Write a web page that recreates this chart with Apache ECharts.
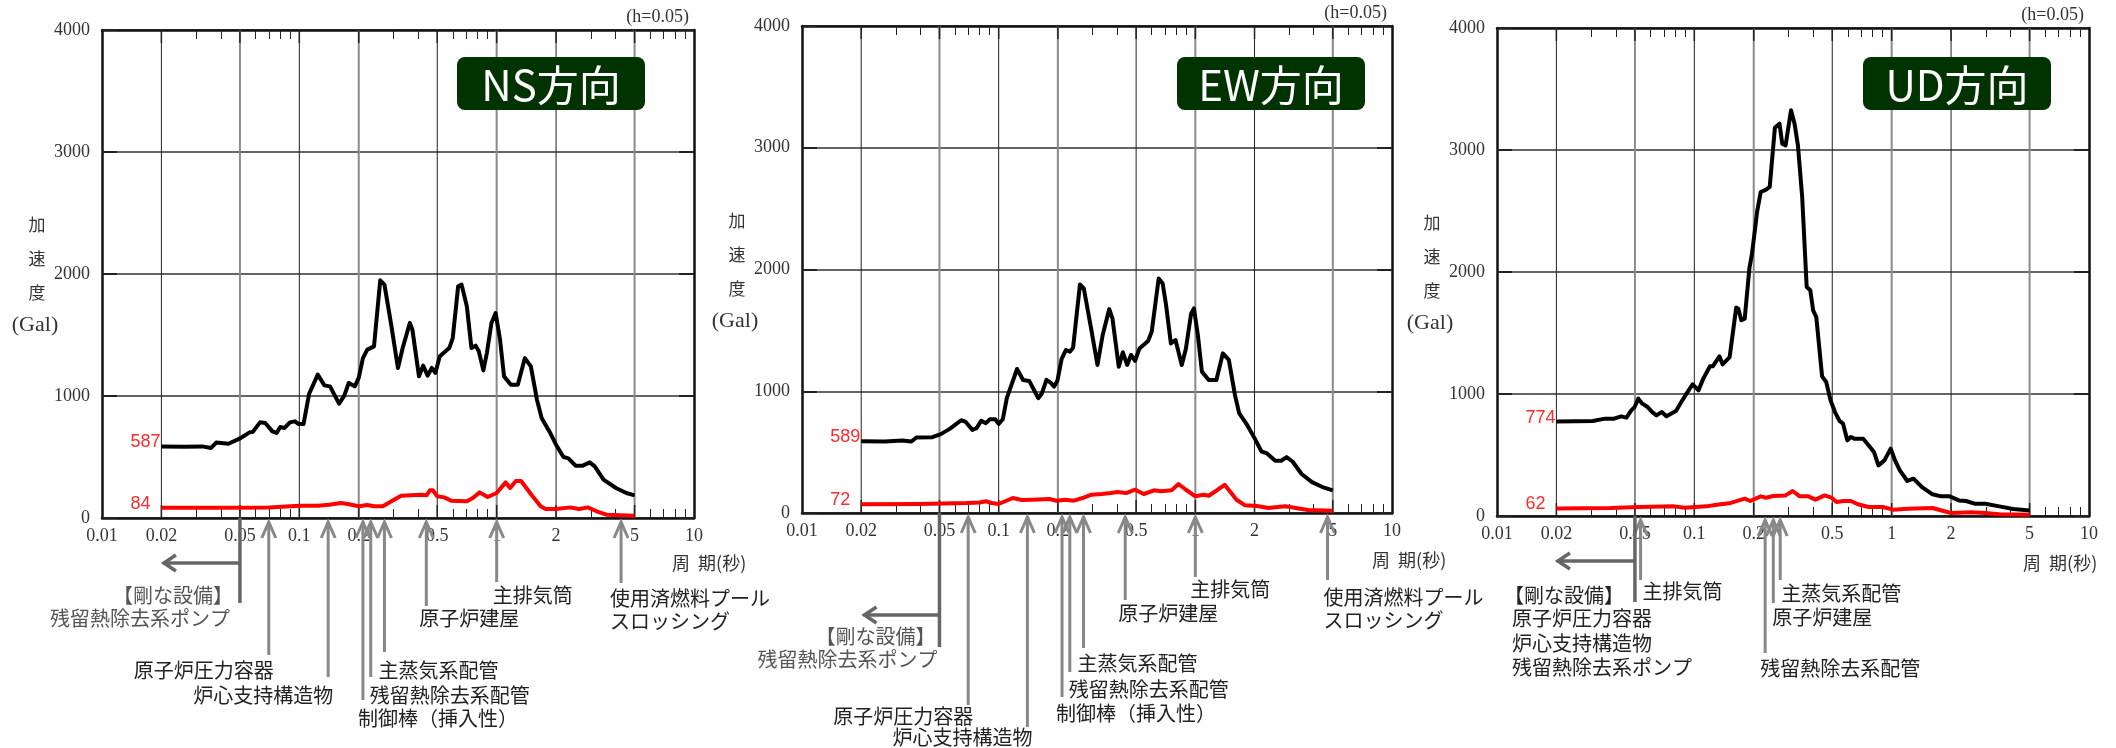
<!DOCTYPE html>
<html>
<head>
<meta http-equiv="Content-Type" content="text/html; charset=utf-8" />
<title>床応答スペクトル</title>
<style>
    html, body { margin: 0; padding: 0; background: #fff; }
    #main { width: 2116px; height: 748px; }
</style>
</head>
<body>
<div id="main"></div>
<script src="https://cdn.jsdelivr.net/npm/echarts@6/dist/echarts.min.js"></script>
<script type="text/javascript">
// ---- values (period s, acceleration Gal) ----
var nsBlackT = [0.02, 0.0262, 0.0322, 0.0357, 0.0379, 0.0437, 0.0495, 0.056, 0.058, 0.0632, 0.0672, 0.073, 0.0767, 0.080, 0.0842, 0.0896, 0.095, 0.0992, 0.105, 0.112, 0.124, 0.134, 0.143, 0.159, 0.169, 0.178, 0.191, 0.2, 0.21, 0.221, 0.226, 0.239, 0.257, 0.270, 0.293, 0.316, 0.334, 0.363, 0.374, 0.404, 0.424, 0.447, 0.469, 0.489, 0.515, 0.575, 0.599, 0.638, 0.664, 0.706, 0.745, 0.782, 0.812, 0.856, 0.892, 0.941, 0.988, 1.04, 1.09, 1.18, 1.28, 1.39, 1.49, 1.60, 1.69, 1.85, 2.0, 2.18, 2.31, 2.51, 2.73, 2.96, 3.14, 3.48, 4.02, 4.54, 5.0];
var nsBlackA = [587, 583, 587, 574, 618, 609, 648, 702, 704, 784, 779, 710, 697, 746, 738, 784, 792, 770, 770, 1016, 1175, 1087, 1079, 937, 1003, 1107, 1079, 1148, 1311, 1380, 1366, 1407, 1948, 1913, 1571, 1230, 1393, 1598, 1544, 1161, 1249, 1167, 1230, 1189, 1325, 1393, 1475, 1899, 1913, 1735, 1393, 1413, 1366, 1210, 1352, 1598, 1680, 1462, 1161, 1093, 1093, 1311, 1243, 970, 820, 710, 601, 500, 489, 429, 429, 456, 423, 314, 246, 205, 186];
var nsRedT = [0.02, 0.0395, 0.0701, 0.1, 0.124, 0.142, 0.162, 0.176, 0.2, 0.221, 0.239, 0.265, 0.293, 0.328, 0.367, 0.415, 0.441, 0.459, 0.475, 0.5, 0.542, 0.588, 0.707, 0.757, 0.82, 0.9, 1.0, 1.11, 1.17, 1.25, 1.33, 1.5, 1.67, 1.77, 2.0, 2.36, 2.61, 2.9, 3.21, 3.6, 5.0];
var nsRedA = [84, 83, 87, 101, 101, 109, 123, 115, 96, 107, 96, 96, 137, 183, 186, 191, 186, 227, 227, 178, 169, 142, 137, 164, 210, 172, 205, 292, 246, 303, 303, 191, 96, 74, 74, 87, 74, 87, 55, 27, 19];

var ewBlackT = [0.02, 0.0264, 0.0324, 0.036, 0.0382, 0.046, 0.0508, 0.0564, 0.0645, 0.0677, 0.0735, 0.0772, 0.0815, 0.086, 0.0903, 0.096, 0.1, 0.105, 0.110, 0.124, 0.133, 0.143, 0.159, 0.166, 0.175, 0.185, 0.191, 0.199, 0.209, 0.220, 0.230, 0.239, 0.259, 0.271, 0.294, 0.318, 0.338, 0.365, 0.379, 0.408, 0.428, 0.450, 0.471, 0.494, 0.520, 0.575, 0.600, 0.651, 0.682, 0.710, 0.751, 0.793, 0.853, 0.896, 0.952, 0.984, 1.03, 1.08, 1.17, 1.28, 1.38, 1.48, 1.59, 1.67, 1.84, 2.0, 2.17, 2.30, 2.55, 2.73, 2.91, 3.12, 3.47, 3.92, 4.43, 5.0];
var ewBlackA = [589, 587, 596, 587, 620, 623, 648, 691, 762, 751, 683, 697, 757, 738, 770, 770, 732, 770, 943, 1183, 1093, 1085, 943, 984, 1093, 1066, 1038, 1087, 1265, 1339, 1325, 1358, 1877, 1844, 1530, 1216, 1462, 1675, 1598, 1202, 1320, 1216, 1298, 1249, 1352, 1413, 1489, 1926, 1885, 1708, 1393, 1421, 1216, 1352, 1639, 1680, 1462, 1161, 1093, 1093, 1311, 1257, 970, 820, 719, 615, 505, 492, 429, 429, 459, 423, 320, 254, 213, 186];
var ewRedT = [0.02, 0.0395, 0.0691, 0.0798, 0.0867, 0.0921, 0.1, 0.118, 0.131, 0.148, 0.181, 0.197, 0.218, 0.241, 0.267, 0.296, 0.334, 0.372, 0.402, 0.445, 0.494, 0.547, 0.617, 0.670, 0.757, 0.821, 0.896, 1.0, 1.10, 1.17, 1.30, 1.41, 1.62, 1.79, 2.06, 2.35, 2.87, 3.24, 3.74, 5.0];
var ewRedA = [72, 74, 82, 87, 96, 82, 74, 123, 107, 109, 115, 101, 109, 101, 123, 150, 156, 164, 172, 164, 191, 156, 186, 178, 186, 238, 191, 137, 150, 142, 191, 232, 109, 63, 57, 41, 55, 41, 25, 19];

var udBlackT = [0.02, 0.0249, 0.0306, 0.0353, 0.0392, 0.0426, 0.0453, 0.0479, 0.0498, 0.052, 0.0545, 0.058, 0.0612, 0.0643, 0.0684, 0.0722, 0.0807, 0.0859, 0.0913, 0.098, 0.105, 0.111, 0.120, 0.124, 0.134, 0.139, 0.151, 0.163, 0.167, 0.173, 0.180, 0.190, 0.196, 0.208, 0.217, 0.231, 0.241, 0.256, 0.270, 0.279, 0.290, 0.309, 0.322, 0.335, 0.352, 0.371, 0.387, 0.400, 0.415, 0.444, 0.466, 0.490, 0.516, 0.544, 0.567, 0.596, 0.621, 0.647, 0.688, 0.717, 0.764, 0.813, 0.857, 0.919, 0.989, 1.04, 1.10, 1.20, 1.29, 1.42, 1.61, 1.78, 1.97, 2.19, 2.38, 2.63, 2.98, 3.51, 4.13, 5.0];
var udBlackA = [774, 776, 779, 798, 798, 817, 806, 866, 893, 962, 921, 893, 852, 825, 852, 817, 861, 934, 1003, 1079, 1030, 1126, 1227, 1227, 1309, 1243, 1303, 1708, 1699, 1604, 1617, 2027, 2150, 2492, 2656, 2675, 2697, 3183, 3216, 3052, 3038, 3325, 3216, 3038, 2615, 1877, 1850, 1686, 1631, 1145, 1098, 948, 852, 779, 757, 620, 648, 634, 634, 634, 579, 525, 415, 456, 552, 456, 374, 287, 306, 238, 178, 161, 161, 128, 123, 101, 101, 79, 57, 46];
var udRedT = [0.02, 0.0376, 0.0523, 0.079, 0.0895, 0.115, 0.130, 0.153, 0.180, 0.192, 0.217, 0.231, 0.251, 0.290, 0.315, 0.342, 0.379, 0.411, 0.457, 0.496, 0.526, 0.572, 0.621, 0.674, 0.764, 0.900, 1.02, 1.20, 1.61, 2.0, 2.53, 2.98, 3.51, 5.0];
var udRedA = [62, 66, 74, 79, 68, 79, 93, 107, 142, 123, 161, 150, 164, 169, 205, 161, 161, 134, 169, 150, 115, 123, 123, 96, 74, 74, 52, 60, 66, 25, 30, 25, 14, 11];

// ---- arrows under the period axis ----
var nsArrowT = [0.07, 0.14, 0.21, 0.23, 0.27, 0.44, 1.0, 4.27];
var ewArrowT = [0.07, 0.14, 0.21, 0.23, 0.27, 0.44, 1.0, 4.7];
var udArrowT = [0.0534, 0.2285, 0.2513, 0.2724];
var nsArrowText = ['原子炉圧力容器', '炉心支持構造物', '制御棒（挿入性）', '残留熱除去系配管', '主蒸気系配管', '原子炉建屋', '主排気筒', '使用済燃料プール\nスロッシング'];
var ewArrowText = nsArrowText;
var udArrowText = ['主排気筒', '残留熱除去系配管', '原子炉建屋', '主蒸気系配管'];
var rigidT = 0.05;
var nsRigidText = ['【剛な設備】', '残留熱除去系ポンプ'];
var ewRigidText = nsRigidText;
var udRigidText = ['【剛な設備】', '原子炉圧力容器', '炉心支持構造物', '残留熱除去系ポンプ'];

var periodLabels = [0.01, 0.02, 0.05, 0.1, 0.2, 0.5, 1, 2, 5, 10];
var minorTicks = [0.03, 0.04, 0.06, 0.07, 0.08, 0.09, 0.3, 0.4, 0.6, 0.7, 0.8, 0.9, 3, 4, 6, 7, 8, 9];
var gridPeriods = [0.02, 0.05, 0.1, 0.2, 0.5, 1, 2, 5];
var gridGray = [false, true, false, true, false, true, false, true];

// ---- layout (pixels) ----
// arrow: [line length, label dx, label dy, align]
var nsArrowLayout = [[137, 5, 152, 'right'], [159, 5, 177, 'right'], [182, -5, 200, 'left'], [159, -1, 177, 'left'], [134, -6, 152, 'left'], [88, -7, 100, 'left'], [64, -4, 77, 'left'], [65, -11, 80, 'left']];
var ewArrowLayout = [[192, 5, 203, 'right'], [214, 5, 224, 'right'], [184, -6, 200, 'left'], [159, -1, 176, 'left'], [135, -6, 150, 'left'], [87, -7, 100, 'left'], [64, -5, 76, 'left'], [67, -4, 84, 'left']];
var udArrowLayout = [[64, 2, 75, 'left'], [137, -5, 152, 'left'], [87, -1, 101, 'left'], [64, 1, 77, 'left']];
var nsRigidLayout = {len: 85, arrowDy: 45, arrowLen: 77, color: '#555', texts: [[-7, 77, 'right'], [-10, 100, 'right']]};
var ewRigidLayout = {len: 134, arrowDy: 102, arrowLen: 76, color: '#555', texts: [[-4, 123, 'right'], [-2, 146, 'right']]};
var udRigidLayout = {len: 86, arrowDy: 45, arrowLen: 78, color: '#222', texts: [[-131, 79, 'left'], [-123, 102, 'left'], [-123, 127, 'left'], [-123, 151, 'left']]};

var panels = [
    {title: 'NS方向', grid: {left: 102, top: 30, width: 592, height: 488}, box: [457, 57], periodName: [672, 563],
     black: [nsBlackT, nsBlackA], red: [nsRedT, nsRedA], arrowT: nsArrowT, arrowText: nsArrowText, arrowLayout: nsArrowLayout, rigidText: nsRigidText, rigid: nsRigidLayout},
    {title: 'EW方向', grid: {left: 802, top: 26, width: 590, height: 487}, box: [1177, 57], periodName: [1372, 560],
     black: [ewBlackT, ewBlackA], red: [ewRedT, ewRedA], arrowT: ewArrowT, arrowText: ewArrowText, arrowLayout: ewArrowLayout, rigidText: ewRigidText, rigid: ewRigidLayout},
    {title: 'UD方向', grid: {left: 1497, top: 28, width: 592, height: 488}, box: [1863, 57], periodName: [2023, 563],
     black: [udBlackT, udBlackA], red: [udRedT, udRedA], arrowT: udArrowT, arrowText: udArrowText, arrowLayout: udArrowLayout, rigidText: udRigidText, rigid: udRigidLayout}
];

var JP = '"Noto Sans CJK JP", sans-serif';
var SERIF = '"Liberation Serif", "DejaVu Serif", serif';

function textEl(x, y, str, align, font, color) {
    return {
        type: 'text', x: x, y: y, silent: true,
        style: {text: str, font: font, fill: color, align: align, textAlign: align, verticalAlign: 'middle', textVerticalAlign: 'middle'}
    };
}

function lineData(T, A) {
    return T.map(function (t, i) {
        if (i === 0) {
            return {value: [t, A[i]], label: {show: true}};
        }
        return [t, A[i]];
    });
}

function gridRender(params, api) {
    var i = params.dataIndex;
    var p0 = api.coord([api.value(0), 0]);
    var p1 = api.coord([api.value(0), 4000]);
    var gray = gridGray[i];
    return {
        type: 'group',
        children: [
            {type: 'line', shape: {x1: p0[0], y1: p0[1], x2: p1[0], y2: p1[1]},
             style: {stroke: gray ? '#8a8a8a' : '#222', lineWidth: gray ? 2 : 1}},
            {type: 'line', shape: {x1: p1[0], y1: p1[1], x2: p1[0], y2: p1[1] + 13}, style: {stroke: '#222', lineWidth: 1.5}},
            {type: 'line', shape: {x1: p0[0], y1: p0[1], x2: p0[0], y2: p0[1] - 13}, style: {stroke: '#222', lineWidth: 1.5}}
        ]
    };
}

function arrowRender(pn) {
    return function (params, api) {
        var i = params.dataIndex;
        var p = api.coord([api.value(0), 0]);
        var x = p[0], y0 = p[1];
        var lay = pn.arrowLayout[i];
        var children = [
            {type: 'line', shape: {x1: x, y1: y0 + 4, x2: x, y2: y0 + lay[0]}, style: {stroke: '#888', lineWidth: 3}},
            {type: 'polyline', shape: {points: [[x - 7, y0 + 20], [x, y0 + 4], [x + 7, y0 + 20]]}, style: {stroke: '#888', lineWidth: 3, fill: null}}
        ];
        pn.arrowText[i].split('\n').forEach(function (s, k) {
            children.push(textEl(x + lay[1], y0 + lay[2] + k * 23, s, lay[3], '20px ' + JP, '#222'));
        });
        return {type: 'group', children: children};
    };
}

function rigidRender(pn) {
    return function (params, api) {
        var p = api.coord([api.value(0), 0]);
        var x = p[0], y0 = p[1];
        var r = pn.rigid;
        var ya = y0 + r.arrowDy, xl = x - r.arrowLen;
        var children = [
            {type: 'line', shape: {x1: x, y1: y0, x2: x, y2: y0 + r.len}, style: {stroke: '#666', lineWidth: 3.5}},
            {type: 'line', shape: {x1: x, y1: ya, x2: xl, y2: ya}, style: {stroke: '#666', lineWidth: 3.5}},
            {type: 'polyline', shape: {points: [[xl + 13, ya - 8], [xl + 1, ya], [xl + 13, ya + 8]]}, style: {stroke: '#666', lineWidth: 3.5, fill: null}}
        ];
        pn.rigidText.forEach(function (s, k) {
            var t = r.texts[k];
            children.push(textEl(x + t[0], y0 + t[1], s, t[2], '20px ' + JP, r.color));
        });
        return {type: 'group', children: children};
    };
}

var option = {
    animation: false,
    backgroundColor: '#fff',
    grid: [], xAxis: [], yAxis: [], series: [], graphic: []
};

panels.forEach(function (pn, n) {
    var g = pn.grid;
    option.grid.push({left: g.left, top: g.top, width: g.width, height: g.height, containLabel: false});
    option.xAxis.push({
        type: 'log', gridIndex: n, position: 'bottom', min: 0.01, max: 10, logBase: 10,
        axisLine: {show: true, onZero: false, lineStyle: {color: '#111', width: 2.5}},
        axisTick: {show: true, inside: true, length: 9, customValues: minorTicks, lineStyle: {color: '#222', width: 1}},
        axisLabel: {show: true, customValues: periodLabels, margin: 9, color: '#333', fontSize: 18, fontFamily: SERIF,
                    formatter: function (v) { return String(+Number(v).toPrecision(2)); }},
        splitLine: {show: false}
    });
    option.xAxis.push({
        type: 'log', gridIndex: n, position: 'top', min: 0.01, max: 10, logBase: 10,
        axisLine: {show: true, onZero: false, lineStyle: {color: '#111', width: 2.5}},
        axisTick: {show: true, inside: true, length: 9, customValues: minorTicks, lineStyle: {color: '#222', width: 1}},
        axisLabel: {show: false},
        splitLine: {show: false}
    });
    option.yAxis.push({
        type: 'value', gridIndex: n, position: 'left', min: 0, max: 4000, interval: 1000,
        axisLine: {show: true, onZero: false, lineStyle: {color: '#111', width: 2.5}},
        axisTick: {show: true, inside: true, length: 15, lineStyle: {color: '#222', width: 2}},
        axisLabel: {margin: 12, color: '#333', fontSize: 18, fontFamily: SERIF,
                    formatter: function (v) { return String(v); }},
        splitLine: {show: true, lineStyle: {color: '#666', width: 2}}
    });
    option.yAxis.push({
        type: 'value', gridIndex: n, position: 'right', min: 0, max: 4000, interval: 1000,
        axisLine: {show: true, onZero: false, lineStyle: {color: '#111', width: 2.5}},
        axisTick: {show: true, inside: true, length: 15, lineStyle: {color: '#222', width: 2}},
        axisLabel: {show: false},
        splitLine: {show: false}
    });

    var xi = 2 * n, yi = 2 * n;
    option.series.push({
        type: 'custom', xAxisIndex: xi, yAxisIndex: yi, z: 1, silent: true,
        data: gridPeriods.map(function (t) { return [t, 0]; }),
        renderItem: gridRender
    });
    var valueLabel = {
        show: false, position: 'left', distance: 31, align: 'left', offset: [0, -4],
        color: '#ff2a2a', fontSize: 18, fontFamily: '"Liberation Sans", sans-serif',
        formatter: function (p) { return p.value[1]; }
    };
    option.series.push({
        type: 'line', xAxisIndex: xi, yAxisIndex: yi, z: 3, silent: true,
        symbol: 'circle', symbolSize: 0, showSymbol: true,
        lineStyle: {color: '#000', width: 4, join: 'round'},
        itemStyle: {color: '#000'},
        label: valueLabel,
        data: lineData(pn.black[0], pn.black[1])
    });
    option.series.push({
        type: 'line', xAxisIndex: xi, yAxisIndex: yi, z: 4, silent: true,
        symbol: 'circle', symbolSize: 0, showSymbol: true,
        lineStyle: {color: '#ff0000', width: 4, join: 'round'},
        itemStyle: {color: '#ff0000'},
        label: valueLabel,
        data: lineData(pn.red[0], pn.red[1])
    });
    option.series.push({
        type: 'custom', xAxisIndex: xi, yAxisIndex: yi, z: 6, silent: true, clip: false,
        data: pn.arrowT.map(function (t) { return [t, 0]; }),
        renderItem: arrowRender(pn)
    });
    option.series.push({
        type: 'custom', xAxisIndex: xi, yAxisIndex: yi, z: 6, silent: true, clip: false,
        data: [[rigidT, 0]],
        renderItem: rigidRender(pn)
    });

    // titles and axis names
    option.graphic.push({
        type: 'rect', silent: true, z: 10,
        shape: {x: pn.box[0], y: pn.box[1], width: 188, height: 53, r: 8},
        style: {fill: '#013300'}
    });
    option.graphic.push(Object.assign(textEl(pn.box[0] + 94, pn.box[1] + 28, pn.title, 'center', '400 42px ' + JP, '#fff'), {z: 11}));
    option.graphic.push(textEl(g.left + g.width - 5, g.top - 13, '(h=0.05)', 'right', '18px ' + SERIF, '#333'));
    var ax = g.left - 65;
    ['加', '速', '度'].forEach(function (c, k) {
        option.graphic.push(textEl(ax, g.top + 195 + k * 34, c, 'center', '17px ' + JP, '#333'));
    });
    option.graphic.push(textEl(ax - 2, g.top + 295, '(Gal)', 'center', '22px ' + SERIF, '#333'));
    option.graphic.push(textEl(pn.periodName[0], pn.periodName[1], '周  期(秒)', 'left', '18px ' + JP, '#333'));
});

var myChart = echarts.init(document.getElementById('main'));
myChart.setOption(option);
</script>
</body>
</html>
